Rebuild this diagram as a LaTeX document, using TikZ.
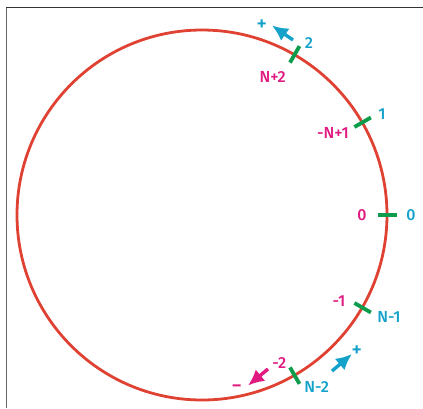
\documentclass[tikz,border=0pt]{standalone}
\usepackage{fontspec}
\setmainfont{Fira Sans}[BoldFont={Fira Sans Medium}]
\usetikzlibrary{arrows.meta}
\definecolor{ringred}{HTML}{DF4233}
\definecolor{tickgreen}{HTML}{0D9C4B}
\definecolor{idxcyan}{HTML}{14A2CB}
\definecolor{idxpink}{HTML}{E01A80}

\begin{document}
\begin{tikzpicture}[x=1pt, y=1pt, font=\fontsize{16}{18}\selectfont\bfseries,
      outlbl/.style={text=idxcyan, inner sep=0pt},
      inlbl/.style={text=idxpink, inner sep=0pt},
      signlbl/.style={inner sep=0pt, font=\fontsize{20}{22}\selectfont\bfseries},
      tickmark/.style={draw=tickgreen, line width=3.8pt},
      dirarrow/.style={line width=3.4pt, -{Latex[length=16pt, width=15pt]}}]
      \useasboundingbox (-202,-193) rectangle (221,215);
      % frame edges
      \draw[gray!80!black, line width=1.5pt] (-195.5,-193) -- (-195.5,207.5);
      \draw[black!80, line width=1.5pt] (-195.5,207.5) -- (221,207.5);

      % ring and index ticks
      \draw[ringred, line width=2.8pt] (0,0) circle (185);
      \foreach \a in {-60,-30,0,30,60}
        \draw[tickmark] (\a:176) -- (\a:195);

      % outer (cyan) indices
      \node[outlbl] (o0) at (209,0) {0};
      \node[outlbl] (o1) at (180,101) {1};
      \node[outlbl] (o2) at (107,172) {2};
      \node[outlbl] (om1) at (187,-101.7) {N-1};
      \node[outlbl] (om2) at (114.7,-172) {N-2};

      % inner (pink) indices
      \node[inlbl] (i0) at (160,0) {0};
      \node[inlbl] (i1) at (131,82.3) {-N+1};
      \node[inlbl] (i2) at (70.7,138) {N+2};
      \node[inlbl] (im1) at (137,-85.7) {-1};
      \node[inlbl] (im2) at (77.3,-147.7) {-2};

      % direction arrows
      \coordinate (up1s) at (91,175);
      \coordinate (up1e) at (70,189.5);
      \coordinate (up2s) at (130,-156);
      \coordinate (up2e) at (150,-139);
      \coordinate (dns) at (66,-154);
      \coordinate (dne) at (46,-170.5);
      \draw[dirarrow, idxcyan] (up1s) -- (up1e);
      \draw[dirarrow, idxcyan] (up2s) -- (up2e);
      \draw[dirarrow, idxpink] (dns) -- (dne);
      \node[outlbl, signlbl] (plus1) at (59.7,190) {+};
      \node[outlbl, signlbl] (plus2) at (154.7,-136) {+};
      \node[inlbl, signlbl] (minus) at (34.7,-174) {−};
    \end{tikzpicture}
\end{document}
